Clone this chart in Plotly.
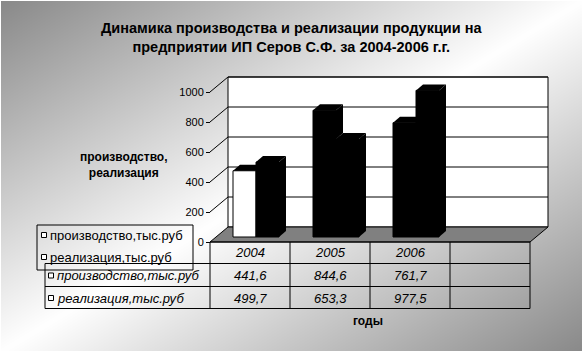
import base64, struct, zlib
import plotly.graph_objects as go

# ---------------- data ----------------
years = ["2004", "2005", "2006"]
production = [441.6, 844.6, 761.7]
realization = [499.7, 653.3, 977.5]
prod_label = "производство,тыс.руб"
real_label = "реализация,тыс.руб"
prod_colors = ["white", "black", "black"]
real_colors = ["black", "black", "black"]
y_ticks = [0, 200, 400, 600, 800, 1000]
title = "Динамика производства и реализации продукции на<br>предприятии ИП Серов С.Ф. за 2004-2006 г.г."
y_title = "производство,<br>реализация"
x_title = "годы"

W, H = 583, 352
FONT = "Liberation Sans, Arial, sans-serif"

# ---------------- geometry (pixels) ----------------
K = 0.15            # px per unit value
BX0, CATW = 256, 80 # bar plane: px of category 0 centre, px per category
BY0 = 237           # bar plane: px of value 0
BW = 23 / CATW      # bar width in category units
DX, DY = 7 / CATW, 6 / K   # bar depth
FX, FY = 210, 242   # front plane origin (left edge, value 0)
BKX, BKY = 228, 227 # back wall origin
FRONT_W = 320

def dx(px):
    return (px - BX0) / CATW

def dv(py):
    return (BY0 - py) / K

def pp(px, py):
    return px / W, 1 - py / H

# ---------------- gradient background ----------------
def make_png():
    raw = bytearray()
    for y in range(H):
        raw.append(0)
        for x in range(W):
            if x == 0 or y == 0 or x == W - 1 or y == H - 1:
                raw.append(255)
                continue
            s = abs(x / W + y / H - 1)
            raw.append(int(255 - 118 * s))
    def chunk(tag, data):
        return struct.pack(">I", len(data)) + tag + data + struct.pack(">I", zlib.crc32(tag + data) & 0xffffffff)
    png = b"\x89PNG\r\n\x1a\n" + chunk(b"IHDR", struct.pack(">IIBBBBB", W, H, 8, 0, 0, 0, 0)) \
        + chunk(b"IDAT", zlib.compress(bytes(raw), 9)) + chunk(b"IEND", b"")
    return "data:image/png;base64," + base64.b64encode(png).decode()

fig = go.Figure()

# bars (front faces)
xs = list(range(len(years)))
fig.add_trace(go.Bar(x=xs, y=production, offset=-BW, width=BW, name=prod_label,
                     marker=dict(color=prod_colors, line=dict(color="black", width=1)),
                     showlegend=False, hoverinfo="skip"))
fig.add_trace(go.Bar(x=xs, y=realization, offset=0, width=BW, name=real_label,
                     marker=dict(color=real_colors, line=dict(color="black", width=1)),
                     showlegend=False, hoverinfo="skip"))
# dummy trace to anchor the front-plane value axis
fig.add_trace(go.Scatter(x=[0], y=[0], yaxis="y2", mode="markers",
                         marker=dict(opacity=0), showlegend=False, hoverinfo="skip"))

shapes = []

def poly(pts, fill, layer="above", line=0):
    path = "M " + " L ".join(f"{x:.5f},{y:.5f}" for x, y in pts) + " Z"
    shapes.append(dict(type="path", path=path, xref="x", yref="y", fillcolor=fill,
                       line=dict(width=line, color="black"), layer=layer))

def seg(p1, p2, layer="below", ref="x", width=1):
    shapes.append(dict(type="line", x0=p1[0], y0=p1[1], x1=p2[0], y1=p2[1],
                       xref=ref, yref=("y" if ref == "x" else "paper"),
                       line=dict(color="black", width=width), layer=layer))

# back wall
wx0, wx1 = dx(BKX), dx(BKX + FRONT_W)
wy0 = dv(BKY)
poly([(wx0, wy0), (wx1, wy0), (wx1, wy0 + 1000), (wx0, wy0 + 1000)], "white", layer="below", line=1)
# floor
fx0, fx1, fy0 = dx(FX), dx(FX + FRONT_W), dv(FY)
poly([(fx0, fy0), (fx1, fy0), (wx1, wy0), (wx0, wy0)], "#808080", layer="below", line=1)
# gridlines on back wall and on (invisible) side wall
for t in y_ticks[1:]:
    seg((wx0, wy0 + t), (wx1, wy0 + t))
    seg((fx0, fy0 + t), (wx0, wy0 + t))

# 3D faces of the bars
for i in xs:
    vp, vr = production[i], realization[i]
    x0, x1, x2 = i - BW, i, i + BW
    if vp < vr:
        poly([(x0, vp), (x1, vp), (x1, vp + DY), (x0 + DX, vp + DY)], "black")
    else:
        poly([(x0, vp), (x1, vp), (x1 + DX, vp + DY), (x0 + DX, vp + DY)], "black")
        poly([(x1, vr), (x1, vp), (x1 + DX, vp + DY), (x1 + DX, vr + DY)], "black")
    poly([(x1, vr), (x2, vr), (x2 + DX, vr + DY), (x1 + DX, vr + DY)], "black")
    poly([(x2, 0), (x2, vr), (x2 + DX, vr + DY), (x2 + DX, DY)], "black")

# ---------------- data table ----------------
row_y = [242, 263.5, 286.5, 308.5]
col_x = [FX + CATW * k for k in range(5)]
TBL_L = 45
for k, yy in enumerate(row_y):
    left = FX if k == 0 else TBL_L
    seg(pp(left, yy), pp(col_x[-1], yy), layer="above", ref="paper")
for cx in col_x:
    seg(pp(cx, row_y[0]), pp(cx, row_y[-1]), layer="above", ref="paper")
seg(pp(TBL_L, row_y[1]), pp(TBL_L, row_y[-1]), layer="above", ref="paper")

# legend box
LG = (37, 225, 193, 270)
for a, b in [((LG[0], LG[1]), (LG[2], LG[1])), ((LG[2], LG[1]), (LG[2], LG[3])),
             ((LG[2], LG[3]), (LG[0], LG[3])), ((LG[0], LG[3]), (LG[0], LG[1]))]:
    seg(pp(*a), pp(*b), layer="above", ref="paper")

def keybox(px, py):
    x0, y0 = pp(px - 2.5, py - 2.5)
    x1, y1 = pp(px + 2.5, py + 2.5)
    shapes.append(dict(type="rect", xref="paper", yref="paper", x0=x0, y0=y0, x1=x1, y1=y1,
                       fillcolor="white", line=dict(color="black", width=1), layer="above"))

annotations = []

def text(s, px, py, size=12, xanchor="center", italic=False):
    x, y = pp(px, py)
    annotations.append(dict(text=s, x=x, y=y, xref="paper", yref="paper", showarrow=False,
                            xanchor=xanchor, yanchor="middle",
                            font=dict(family=FONT, size=size, color="black",
                                      style="italic" if italic else "normal")))

legend_rows = [(prod_label, 235), (real_label, 257)]
for lbl, yy in legend_rows:
    keybox(44, yy)
    text(lbl, 48, yy, 13, "left")

for k, yr in enumerate(years):
    cx = FX + CATW * k + CATW / 2
    text(yr, cx, 252.5, 13, italic=True)
    text(f"{production[k]:.1f}".replace(".", ","), cx, 275.5, 13, italic=True)
    text(f"{realization[k]:.1f}".replace(".", ","), cx, 298, 13, italic=True)

for lbl, yy in [(prod_label, 275.5), (real_label, 298)]:
    keybox(51, yy)
    text(lbl, 55, yy, 13, "left", italic=True)

text("<b>" + title + "</b>", W / 2, 37, 14.5)
text("<b>" + y_title + "</b>", 124, 165, 12)
text("<b>" + x_title + "</b>", 368, 321, 12)

fig.update_layout(
    width=W, height=H, margin=dict(l=0, r=0, t=0, b=0),
    paper_bgcolor="white", plot_bgcolor="rgba(0,0,0,0)",
    barmode="overlay", showlegend=False,
    xaxis=dict(range=[dx(0), dx(W)], domain=[0, 1], visible=False, fixedrange=True),
    yaxis=dict(range=[dv(H), dv(0)], domain=[0, 1], visible=False, fixedrange=True),
    yaxis2=dict(range=[(FY - H) / K, FY / K], overlaying="y", anchor="free",
                position=FX / W, side="left", tickvals=y_ticks, ticks="outside",
                ticklen=4, tickcolor="black", showgrid=False, zeroline=False,
                showline=False, tickfont=dict(family=FONT, size=11, color="black")),
    shapes=shapes, annotations=annotations,
    images=[dict(source=make_png(), xref="paper", yref="paper", x=0, y=1, sizex=1, sizey=1,
                 xanchor="left", yanchor="top", sizing="stretch", layer="below")],
)

fig.write_html("out.html")
